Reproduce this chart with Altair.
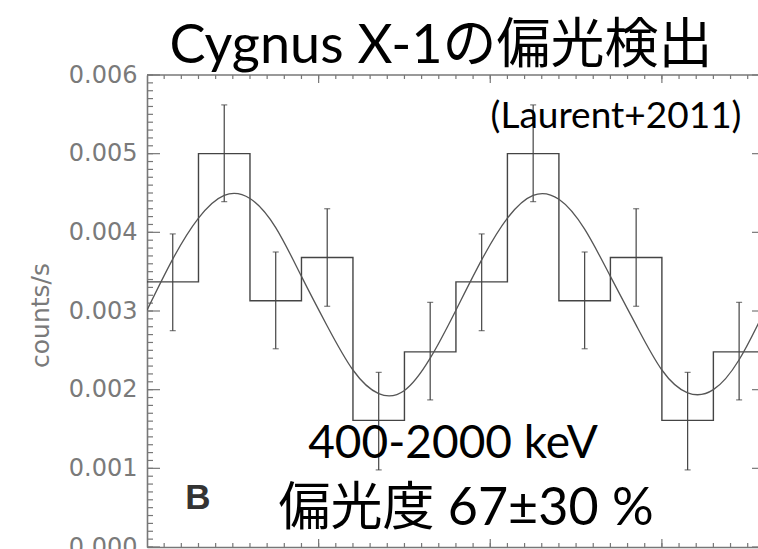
import altair as alt
import pandas as pd

# ---------------- data ----------------
bin_start = [0, 30, 60, 90, 120, 150, 180, 210, 240, 270, 300, 330]
bin_end = 360
counts = [0.00337, 0.00500, 0.00313, 0.00368, 0.00161, 0.00248,
          0.00337, 0.00500, 0.00313, 0.00368, 0.00161, 0.00248]
err_hi = [0.00398, 0.00562, 0.00375, 0.00430, 0.00222, 0.00311,
          0.00398, 0.00562, 0.00375, 0.00430, 0.00222, 0.00311]
err_lo = [0.00275, 0.00439, 0.00252, 0.00306, 0.00098, 0.00187,
          0.00275, 0.00439, 0.00252, 0.00306, 0.00098, 0.00187]

fit_angle = [0, 15, 30, 45, 60, 75, 90, 105, 120, 135, 150, 165, 180,
             195, 210, 225, 240, 255, 270, 285, 300, 315, 330, 345, 360]
fit_value = [0.00301, 0.00366, 0.00418, 0.00447, 0.00443, 0.00406, 0.00344,
             0.00281, 0.00225, 0.00195, 0.00199, 0.00240, 0.00301,
             0.00365, 0.00418, 0.00447, 0.00442, 0.00404, 0.00344,
             0.00282, 0.00225, 0.00196, 0.00200, 0.00238, 0.00301]

y_tick_values = [0.000, 0.001, 0.002, 0.003, 0.004, 0.005, 0.006]

title_text = ["Cygnus X-1の偏光検出"]
ref_text = ["(Laurent+2011)"]
energy_text = ["400-2000 keV"]
pol_text = ["偏光度 67±30 %"]
panel_text = ["B"]

# ---------------- tables ----------------
step_df = pd.DataFrame({"x": bin_start + [bin_end], "y": counts + [counts[-1]]})
err_df = pd.DataFrame({"x": [b + 15 for b in bin_start], "hi": err_hi, "lo": err_lo})
fit_df = pd.DataFrame({"x": fit_angle, "y": fit_value})

W, H = 611, 472
FULL_W = 618  # where the (cropped) right frame would be
xs = alt.Scale(domain=[0, 356], nice=False, zero=False)
ys = alt.Scale(domain=[0, 0.006], nice=False, zero=False)

LINE = "#444444"
FRAME = "#777777"
LAT = 'Lato, "Noto Sans CJK JP"'
AXF = '"DejaVu Sans"'

base = alt.Chart(step_df)

step = base.mark_line(interpolate="step-after", color=LINE, strokeWidth=1.4, clip=True).encode(
    x=alt.X("x:Q", scale=xs, axis=alt.Axis(labels=False, ticks=False, title=None, grid=False,
                                          domainColor=FRAME, domainWidth=1.6)),
    y=alt.Y("y:Q", scale=ys, axis=alt.Axis(values=y_tick_values, format=".3f", tickSize=0,
                                          labelPadding=10, labelFont=AXF,
                                          labelFontSize=24, labelFontWeight="normal",
                                          labelColor="#7a7a7a", labelFlush=False,
                                          labelOverlap=False, grid=False,
                                          domainColor=FRAME, domainWidth=1.6,
                                          title="counts/s", titleFont=AXF,
                                          titleFontSize=25, titleFontWeight="normal",
                                          titleColor="#7a7a7a", titleX=-107, titleY=240,
                                          titleAngle=270, titleAlign="center",
                                          titleBaseline="middle")),
)

err_rule = alt.Chart(err_df).mark_rule(color=LINE, strokeWidth=1.2, clip=True).encode(
    x=alt.X("x:Q", scale=xs), y=alt.Y("lo:Q", scale=ys), y2="hi:Q")
cap_hi = alt.Chart(err_df).mark_tick(orient="horizontal", size=6, thickness=1.2, color=LINE,
                                     clip=True).encode(
    x=alt.X("x:Q", scale=xs), y=alt.Y("hi:Q", scale=ys))
cap_lo = alt.Chart(err_df).mark_tick(orient="horizontal", size=6, thickness=1.2, color=LINE,
                                     clip=True).encode(
    x=alt.X("x:Q", scale=xs), y=alt.Y("lo:Q", scale=ys))

curve = alt.Chart(fit_df).mark_line(interpolate="natural", color="#555555", strokeWidth=1.3,
                                    clip=True).encode(
    x=alt.X("x:Q", scale=xs), y=alt.Y("y:Q", scale=ys))

# ---------------- inward ticks ----------------
def yticks(step_v, length, left=True):
    ch = alt.Chart(alt.sequence(0, 0.00605, step_v, as_="v")).mark_rule(color=FRAME, strokeWidth=1.2)
    if left:
        return ch.encode(y=alt.Y("v:Q", scale=ys), x=alt.value(0), x2=alt.value(length))
    return ch.encode(y=alt.Y("v:Q", scale=ys), x=alt.value(FULL_W - length), x2=alt.value(FULL_W))

def xticks(step_v, length, top=True):
    ch = alt.Chart(alt.sequence(0, 361, step_v, as_="v")).mark_rule(color=FRAME, strokeWidth=1.2,
                                                                     clip=True)
    if top:
        return ch.encode(x=alt.X("v:Q", scale=xs), y=alt.value(0), y2=alt.value(length))
    return ch.encode(x=alt.X("v:Q", scale=xs), y=alt.value(H - length), y2=alt.value(H))

ticks = [
    yticks(0.0001, 6), yticks(0.001, 13), yticks(0.001, 13, left=False),
    xticks(10, 4), xticks(100, 8), xticks(10, 4, top=False), xticks(100, 8, top=False),
]

top_frame = alt.Chart(pd.DataFrame({"a": [0]})).mark_rule(color=FRAME, strokeWidth=1.6).encode(
    x=alt.value(0), x2=alt.value(FULL_W), y=alt.value(0))

# ---------------- texts ----------------
def txt(values, x, y, size, font=LAT, color="black", weight="normal"):
    return alt.Chart(pd.DataFrame({"t": values})).mark_text(
        font=font, fontSize=size, color=color, fontWeight=weight,
        align="center", baseline="alphabetic").encode(
        text="t:N", x=alt.value(x), y=alt.value(y))

texts = [
    txt(title_text, 294, -12, 54),
    txt(ref_text, 469, 53, 37),
    txt(energy_text, 306, 383, 46),
    txt(pol_text, 319, 450, 52),
    txt(panel_text, 51, 434, 35, font='"Liberation Sans", Arial, sans-serif', color="#333333",
        weight="bold"),
]

chart = alt.layer(*ticks, top_frame, step, err_rule, cap_hi, cap_lo, curve, *texts).properties(
    width=W, height=H,
    autosize=alt.AutoSizeParams(type="none"),
    padding={"left": 147, "top": 75, "right": 0, "bottom": 2},
    background="white",
).configure_view(stroke=None)

chart.save("out.html", embed_options={"renderer": "svg", "actions": False})
